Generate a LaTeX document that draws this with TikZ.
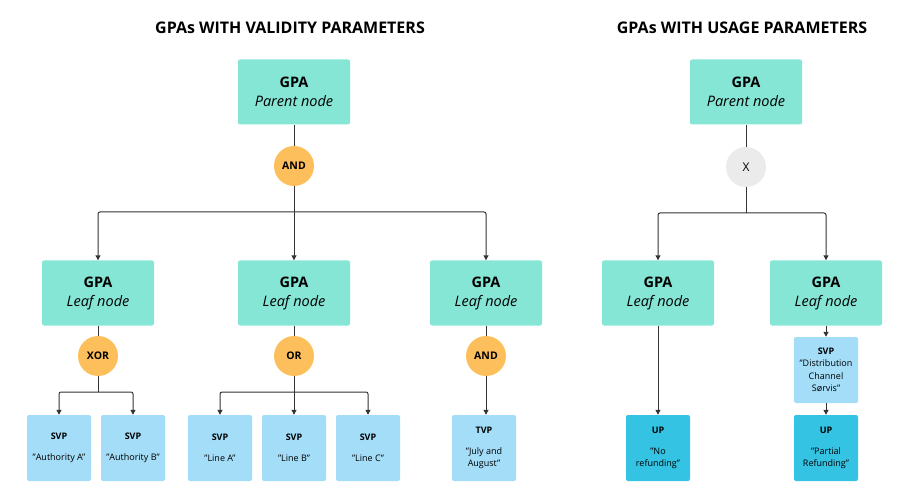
\documentclass[tikz,border=0pt]{standalone}
\usepackage{fontspec}
\setmainfont{Open Sans}
\usetikzlibrary{arrows.meta}
\definecolor{teal}{HTML}{86E6D6}
\definecolor{orng}{HTML}{FDBE5C}
\definecolor{lblue}{HTML}{A3DDF8}
\definecolor{upblue}{HTML}{34C3E3}
\definecolor{lgray}{HTML}{EBEBEB}
\definecolor{ln}{HTML}{333333}
\begin{document}
\begin{tikzpicture}[x=1pt,y=-1pt,
  gpa/.style={fill=teal,rounded corners=2pt,minimum width=112pt,minimum height=65pt,align=center,inner sep=0pt,font=\fontsize{14.5}{19}\selectfont},
  op/.style={circle,fill=orng,minimum size=40pt,inner sep=0pt,font=\bfseries\fontsize{10.5}{13}\selectfont},
  svp/.style={fill=lblue,rounded corners=2pt,minimum width=64pt,minimum height=66pt,align=center,inner sep=0pt,font=\fontsize{9}{12.5}\selectfont},
  up/.style={svp,fill=upblue},
  ttl/.style={font=\bfseries\fontsize{16}{18}\selectfont},
  con/.style={draw=ln,line width=1pt,-{Triangle[length=5pt,width=5pt]},rounded corners=2pt},
  lin/.style={draw=ln,line width=1pt}]
\useasboundingbox (0,0) rectangle (904,502);
\node[ttl] (t1) at (290,28) {GPAs WITH VALIDITY PARAMETERS};
\node[ttl] (t2) at (742,28) {GPAs WITH USAGE PARAMETERS};
% left tree
\node[gpa] (p) at (294,92) {\textbf{GPA}\\\textit{Parent node}};
\node[op] (and) at (294,166) {AND};
\coordinate (b1) at (294,212);
\node[gpa] (l1) at (98,293) {\textbf{GPA}\\\textit{Leaf node}};
\node[gpa] (l2) at (294,293) {\textbf{GPA}\\\textit{Leaf node}};
\node[gpa] (l3) at (486,293) {\textbf{GPA}\\\textit{Leaf node}};
\node[op] (xor) at (98,356) {XOR};
\node[op] (or) at (294,356) {OR};
\node[op] (and2) at (486,356) {AND};
\node[svp] (sa) at (59,448) {\textbf{SVP}\\[8pt]"Authority A"};
\node[svp] (sb) at (133,448) {\textbf{SVP}\\[8pt]"Authority B"};
\node[svp] (la) at (220,448) {\textbf{SVP}\\[8pt]"Line A"};
\node[svp] (lb) at (294,448) {\textbf{SVP}\\[8pt]"Line B"};
\node[svp] (lc) at (368,448) {\textbf{SVP}\\[8pt]"Line C"};
\node[svp] (tv) at (484,448) {\textbf{TVP}\\[8pt]"July and\\August"};
\draw[lin] (p) -- (and);
\draw[lin] (and) -- (b1);
\draw[con] (b1) -| (l1);
\draw[con] (b1) -- (l2);
\draw[con] (b1) -| (l3);
\draw[lin] (l1) -- (xor);
\draw[lin] (l2) -- (or);
\draw[lin] (l3) -- (and2);
\coordinate (b2) at (98,392);
\coordinate (b3) at (294,392);
\draw[lin] (xor) -- (b2);
\draw[con] (b2) -| (sa);
\draw[con] (b2) -| (sb);
\draw[lin] (or) -- (b3);
\draw[con] (b3) -| (la);
\draw[con] (b3) -- (lb);
\draw[con] (b3) -| (lc);
\draw[con] (and2) -- (and2 |- tv.north);
% right tree
\node[gpa] (rp) at (746,92) {\textbf{GPA}\\\textit{Parent node}};
\node[op,fill=lgray,font=\fontsize{12}{15}\selectfont] (x) at (746,167) {X};
\coordinate (b4) at (746,213);
\node[gpa] (r1) at (658,293) {\textbf{GPA}\\\textit{Leaf node}};
\node[gpa] (r2) at (826,293) {\textbf{GPA}\\\textit{Leaf node}};
\node[svp] (ds) at (826,370) {\textbf{SVP}\\"Distribution\\Channel\\Sørvis"};
\node[up] (u1) at (658,448) {\textbf{UP}\\[8pt]"No\\refunding"};
\node[up] (u2) at (826,448) {\textbf{UP}\\[8pt]"Partial\\Refunding"};
\draw[lin] (rp) -- (x);
\draw[lin] (x) -- (b4);
\draw[con] (b4) -| (r1);
\draw[con] (b4) -| (r2);
\draw[con] (r1) -- (u1);
\draw[con] (r2) -- (ds);
\draw[con] (ds) -- (u2);
\end{tikzpicture}
\end{document}
